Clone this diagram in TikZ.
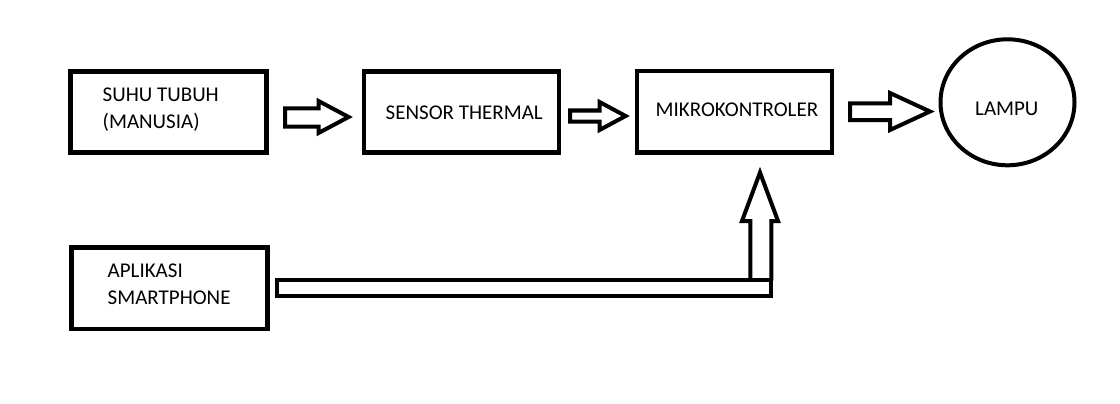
\documentclass[tikz,border=0pt]{standalone}
\usepackage{fontspec}
\setmainfont{Carlito}
\usetikzlibrary{shapes.geometric}
\begin{document}
\begin{tikzpicture}[x=1pt,y=-1pt,
  blockbox/.style={draw=black,line width=4.5pt,rectangle,inner sep=0pt},
  lampshape/.style={draw=black,line width=4pt,ellipse,inner sep=0pt,minimum width=134pt,minimum height=126pt},
  label/.style={inner sep=0pt,anchor=base west,font=\fontsize{21}{27}\selectfont},
  fatarrow/.style={draw=black,line width=4pt,fill=white,line join=miter}]
\useasboundingbox (0,0) rectangle (1120,404);
\fill[white] (0,0) rectangle (1120,404);

% boxes
\node[blockbox,minimum width=196pt,minimum height=81pt] (suhu) at (168.5,112) {};
\node[blockbox,minimum width=195pt,minimum height=81pt] (sensor) at (461.5,112) {};
\node[blockbox,minimum width=195pt,minimum height=81.5pt] (mikro) at (734.5,111.75) {};
\node[blockbox,minimum width=196pt,minimum height=81.5pt] (apl) at (169.5,288.25) {};
\node[lampshape] (lampu) at (1007.5,102.3) {};

% texts
\node[label] (t1a) at (102.5,101.7) {SUHU TUBUH};
\node[label] (t1b) at (102.5,128.3) {(MANUSIA)};
\node[label] (t2) at (385.5,120) {SENSOR THERMAL};
\node[label] (t3) at (655.5,117) {MIKROKONTROLER};
\node[label] (t4) at (975,115) {LAMPU};
\node[label] (t5a) at (107.5,277.3) {APLIKASI};
\node[label] (t5b) at (107.5,304) {SMARTPHONE};

% block arrows
\draw[fatarrow] (285,108.5) -- (318.5,108.5) -- (318.5,101) -- (348.6,117) -- (318.5,133) -- (318.5,126.5) -- (285,126.5) -- cycle;
\draw[fatarrow] (570,110.5) -- (599.5,110.5) -- (599.5,102) -- (625.6,116) -- (599.5,130) -- (599.5,121.5) -- (570,121.5) -- cycle;
\draw[fatarrow] (850,103.5) -- (890,103.5) -- (890,93) -- (930,111.5) -- (890,130) -- (890,120) -- (850,120) -- cycle;

% bent arrow from apl to mikro
\coordinate (barL) at (277,280.3);
\coordinate (barR) at (771.3,296.3);
\draw[fatarrow] (750.3,280.3) -- (750.3,221) -- (742,221) -- (760,172.5) -- (778,221) -- (771.3,221) -- (771.3,280.3);
\draw[fatarrow] (barL) rectangle (barR);
\end{tikzpicture}
\end{document}
